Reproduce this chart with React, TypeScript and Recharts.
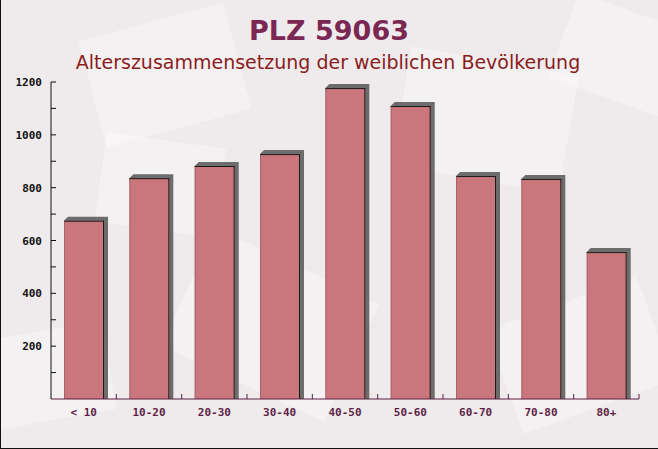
import React from 'react';
import { BarChart, Bar, XAxis, YAxis } from 'recharts';

const categories = ['< 10', '10-20', '20-30', '30-40', '40-50', '50-60', '60-70', '70-80', '80+'];
const femaleCounts = [675, 836, 882, 927, 1177, 1109, 844, 833, 556];
const yTicks = [0, 100, 200, 300, 400, 500, 600, 700, 800, 900, 1000, 1100, 1200];

const data = categories.map((c, i) => ({ name: c, value: femaleCounts[i] }));

const W = 658;
const H = 449;
const MONO = '"DejaVu Sans Mono", monospace';

const BarShape = (props: any) => {
  const { x, y, width, height } = props;
  if (height <= 0) return null;
  const d = 4;
  return (
    <g>
      <polygon
        points={`${x},${y} ${x + d},${y - d} ${x + width + d},${y - d} ${x + width + d},${y + height} ${x + width},${y + height}`}
        fill="#5e5e5e"
        fillOpacity={0.9}
      />
      <rect x={x} y={y} width={width} height={height} fill="#c9767c" />
      <line x1={x} y1={y + 0.5} x2={x + width} y2={y + 0.5} stroke="#1a1a1a" strokeWidth={1} />
      <line x1={x + width - 0.5} y1={y} x2={x + width - 0.5} y2={y + height} stroke="#1a1a1a" strokeWidth={1} />
      <line x1={x + 0.5} y1={y} x2={x + 0.5} y2={y + height} stroke="#8a4a50" strokeWidth={1} strokeOpacity={0.5} />
    </g>
  );
};

const YTick = (props: any) => {
  const { x, y, payload } = props;
  const axisX = x + 9;
  const v = payload.value;
  const show = v % 200 === 0 && v !== 0;
  return (
    <g>
      {v !== 0 && <line x1={axisX} y1={y} x2={axisX + 5} y2={y} stroke="#111" strokeWidth={1} />}
      {show && (
        <text x={x} y={y} dy={4} textAnchor="end" fontFamily={MONO} fontWeight="bold" fontSize={11} fill="#111">
          {v}
        </text>
      )}
    </g>
  );
};

const XTick = (props: any) => {
  const { x, y, payload } = props;
  const band = (639 - 51) / categories.length;
  const axisY = y - 9;
  const bx = x + band / 2;
  return (
    <g>
      <line x1={bx} y1={axisY} x2={bx} y2={axisY - 5} stroke="#5c1f3f" strokeWidth={1} />
      <text x={x} y={y} dy={8} textAnchor="middle" fontFamily={MONO} fontWeight="bold" fontSize={11} fill="#5e1f45">
        {payload.value}
      </text>
    </g>
  );
};

const Background = () => (
  <g>
    <rect x={0} y={0} width={W} height={H} fill="#efebed" />
    <g fill="#ffffff" fillOpacity={0.3}>
      <rect x={90} y={20} width={150} height={110} transform="rotate(-15 165 75)" />
      <rect x={400} y={60} width={170} height={120} transform="rotate(10 485 120)" />
      <rect x={180} y={260} width={180} height={130} transform="rotate(25 270 325)" />
      <rect x={500} y={300} width={160} height={110} transform="rotate(-20 580 355)" />
      <rect x={-10} y={330} width={120} height={90} transform="rotate(-10 50 375)" />
      <rect x={560} y={10} width={120} height={90} transform="rotate(20 620 55)" />
      <rect x={100} y={140} width={120} height={90} transform="rotate(8 160 185)" />
    </g>
  </g>
);

export default function App() {
  return (
    <div style={{ position: 'absolute', left: 0, top: 0, width: W, height: H }}>
      <svg width={W} height={H} style={{ position: 'absolute', left: 0, top: 0 }}>
        <Background />
        <text x={329} y={40} textAnchor="middle" fontFamily='"DejaVu Sans", sans-serif' fontWeight="bold" fontSize={27} fill="#7a2853">
          PLZ 59063
        </text>
        <text x={328} y={69} textAnchor="middle" fontFamily='"DejaVu Sans", sans-serif' fontSize={19} fill="#8b1c1c">
          Alterszusammensetzung der weiblichen Bevölkerung
        </text>
        <line x1={0.5} y1={0} x2={0.5} y2={H} stroke="#111" />
        <line x1={0} y1={H - 0.5} x2={W} y2={H - 0.5} stroke="#111" />
      </svg>
      <div style={{ position: 'absolute', left: 0, top: 0 }}>
        <BarChart width={W} height={H} data={data} margin={{ top: 82, right: 19, left: 0, bottom: 0 }}>
          <XAxis
            dataKey="name"
            height={50}
            stroke="#5c1f3f"
            tickSize={0}
            tickMargin={9}
            tickLine={false}
            tick={<XTick />}
            interval={0}
          />
          <YAxis
            width={51}
            domain={[0, 1200]}
            ticks={yTicks}
            stroke="#111"
            tickSize={0}
            tickMargin={9}
            tickLine={false}
            tick={<YTick />}
            interval={0}
          />
          <Bar dataKey="value" barSize={40} shape={<BarShape />} isAnimationActive={false} />
        </BarChart>
      </div>
    </div>
  );
}
